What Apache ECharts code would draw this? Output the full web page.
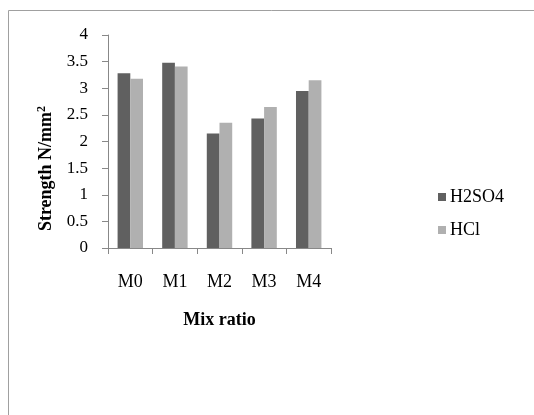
<!DOCTYPE html>
<html><head><meta charset="utf-8">
<script src="https://cdn.jsdelivr.net/npm/echarts@6/dist/echarts.min.js"></script>
<style>html,body{margin:0;padding:0;background:#fff}#c{width:534px;height:415px}</style>
</head><body><div id="c"></div>
<script>
const categories = ['M0','M1','M2','M3','M4'];
const h2so4 = [3.28, 3.48, 2.15, 2.43, 2.95];
const hcl = [3.18, 3.41, 2.35, 2.65, 3.15];
const yTicks = [0, 0.5, 1, 1.5, 2, 2.5, 3, 3.5, 4];

const font = 'Liberation Serif';
const chart = echarts.init(document.getElementById('c'), null, {renderer:'canvas'});
chart.setOption({
  animation:false,
  backgroundColor:'#fff',
  graphic:[{type:'rect', shape:{x:8.5,y:10.5,width:600,height:500}, style:{fill:'none', stroke:'#a0a0a0', lineWidth:1}, silent:true}],
  grid:{left:108, right:203, top:35, bottom:167},
  legend:{
    orient:'vertical', left:433, top:183, itemWidth:8, itemHeight:8, itemGap:15,
    icon:'rect', padding:5,
    textStyle:{fontFamily:font, fontSize:18, color:'#000', padding:[0,0,0,-1]},
    data:['H2SO4','HCl']
  },
  xAxis:{
    type:'category', data:categories,
    axisLine:{lineStyle:{color:'#888'}},
    axisTick:{show:true, length:6, lineStyle:{color:'#888'}},
    axisLabel:{fontFamily:font, fontSize:18, color:'#000', margin:25},
    name:'Mix ratio', nameLocation:'middle', nameGap:63,
    nameTextStyle:{fontFamily:font, fontSize:18, fontWeight:'bold', color:'#000'}
  },
  yAxis:{
    type:'value', min:yTicks[0], max:yTicks[yTicks.length-1], interval:0.5,
    axisLine:{show:true, lineStyle:{color:'#888'}},
    axisTick:{show:true, length:6, lineStyle:{color:'#888'}},
    splitLine:{show:false},
    axisLabel:{fontFamily:font, fontSize:17, color:'#000', margin:20},
    name:'Strength N/mm{sup|2}', nameLocation:'middle', nameGap:51,
    nameTextStyle:{fontFamily:font, fontSize:18, fontWeight:'bold', color:'#000', padding:[0,54,0,0],
      rich:{sup:{fontFamily:font, fontSize:12, fontWeight:'bold', verticalAlign:'top', padding:[0,0,9,0]}}}
  },
  series:[
    {name:'H2SO4', type:'bar', data:h2so4, barGap:'0%', barCategoryGap:'43%', itemStyle:{color:'#606060'}},
    {name:'HCl', type:'bar', data:hcl, itemStyle:{color:'#b0b0b0'}}
  ]
});
</script></body></html>
